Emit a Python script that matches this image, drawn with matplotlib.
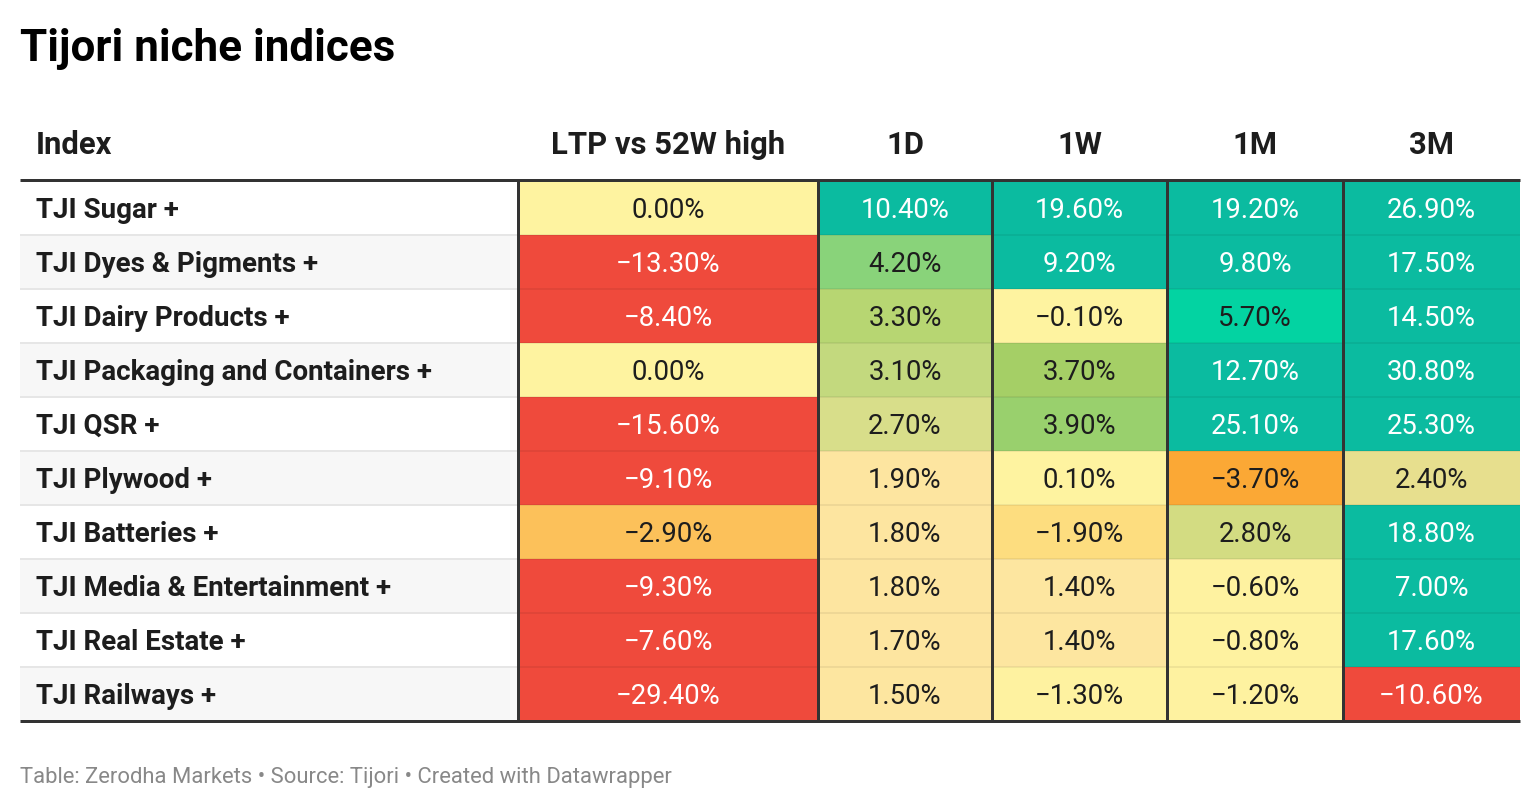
import matplotlib
matplotlib.use("Agg")
import matplotlib.pyplot as plt
import numpy as np
from matplotlib.colors import LinearSegmentedColormap, Normalize, to_rgb

# ---------------- data ----------------
title = "Tijori niche indices"
footer = "Table: Zerodha Markets \u2022 Source: Tijori \u2022 Created with Datawrapper"
columns = ["Index", "LTP vs 52W high", "1D", "1W", "1M", "3M"]
indices = ["TJI Sugar +", "TJI Dyes & Pigments +", "TJI Dairy Products +",
           "TJI Packaging and Containers +", "TJI QSR +", "TJI Plywood +",
           "TJI Batteries +", "TJI Media & Entertainment +", "TJI Real Estate +",
           "TJI Railways +"]
ltp_vs_52w = [0.00, -13.30, -8.40, 0.00, -15.60, -9.10, -2.90, -9.30, -7.60, -29.40]
ret_1d = [10.40, 4.20, 3.30, 3.10, 2.70, 1.90, 1.80, 1.80, 1.70, 1.50]
ret_1w = [19.60, 9.20, -0.10, 3.70, 3.90, 0.10, -1.90, 1.40, 1.40, -1.30]
ret_1m = [19.20, 9.80, 5.70, 12.70, 25.10, -3.70, 2.80, -0.60, -0.80, -1.20]
ret_3m = [26.90, 17.50, 14.50, 30.80, 25.30, 2.40, 18.80, 7.00, 17.60, -10.60]

# ---------------- colour scale ----------------
vmin, vmax = -30.0, 31.0
scale_stops = [(-30, '#ef4a3c'), (-5.0, '#ef4a3c'), (-3.7, '#fba935'),
               (-2.9, '#fcc15b'), (-1.9, '#fddd7f'), (-1.4, '#fef2a0'),
               (1.0, '#fef3a0'), (1.35, '#fde6a0'), (1.95, '#fde5a0'),
               (2.4, '#e7df8e'), (2.7, '#d8de8a'), (2.8, '#d4dc82'),
               (3.1, '#c3d97e'), (3.3, '#b8d672'), (3.7, '#a5cf66'),
               (3.9, '#9ad06c'), (4.2, '#8ad37a'), (5.7, '#03d3a2'),
               (7.0, '#0bbba0'), (31, '#0bbba0')]
cmap = LinearSegmentedColormap.from_list(
    "dw", [((v - vmin) / (vmax - vmin), c) for v, c in scale_stops], N=2048)
norm = Normalize(vmin, vmax)

plt.rcParams['font.family'] = ['Roboto', 'DejaVu Sans']

W, H = 1540, 810
fig = plt.figure(figsize=(W / 100, H / 100), dpi=100)
ax = fig.add_axes([0, 0, 1, 1])
ax.set_xlim(0, W)
ax.set_ylim(H, 0)
ax.axis('off')

px = 72 / 100  # points per pixel

# layout (pixels)
left, right = 20, 1520
col_edges = [20, 518, 818, 992, 1167, 1343, 1520]
top = 181
row_h = 54
nrows = len(indices)
row_edges = top + row_h * np.arange(nrows + 1)

values = np.array([ltp_vs_52w, ret_1d, ret_1w, ret_1m, ret_3m]).T

# stripes in index column
for i in range(nrows):
    if i % 2 == 1:
        ax.axhspan(row_edges[i], row_edges[i + 1], xmin=left / W, xmax=col_edges[1] / W,
                   color='#f7f7f7', lw=0, zorder=0)

# heatmap cells
ax.pcolormesh(col_edges[1:], row_edges, values, cmap=cmap, norm=norm, zorder=1)

# row separators
for y in row_edges[1:-1]:
    ax.plot([left, col_edges[1]], [y, y], color='#e6e6e6', lw=2 * px, zorder=2,
            solid_capstyle='butt')
    ax.plot([col_edges[1], right], [y, y], color='#000000', alpha=0.06, lw=2 * px,
            zorder=2, solid_capstyle='butt')

# column separators
for x in col_edges[1:-1]:
    ax.plot([x, x], [row_edges[0] - 1, row_edges[-1]], color='#333333', lw=3 * px,
            zorder=3, solid_capstyle='butt')

# thick top and bottom rules
ax.plot([left, right], [180, 180], color='#333333', lw=3 * px, zorder=4,
        solid_capstyle='butt')
ax.plot([left, right], [row_edges[-1], row_edges[-1]], color='#333333', lw=3 * px,
        zorder=4, solid_capstyle='butt')

# title
ax.text(20, 61, title, fontsize=31.7, fontweight='bold', color='#000000',
        ha='left', va='baseline')

# headers
for j, name in enumerate(columns):
    if j == 0:
        ax.text(36, 154, name, fontsize=22.3, fontweight='bold', color='#1d1d1d',
                ha='left', va='baseline')
    else:
        cx = (col_edges[j] + col_edges[j + 1]) / 2
        ax.text(cx, 154, name, fontsize=22.3, fontweight='bold', color='#1d1d1d',
                ha='center', va='baseline')

# body
for i, name in enumerate(indices):
    yb = row_edges[i] + row_h / 2 + 10
    ax.text(36, yb, name, fontsize=20, fontweight='bold', color='#1d1d1d',
            ha='left', va='baseline', zorder=5)
    for j in range(values.shape[1]):
        v = values[i, j]
        r, g, b = to_rgb(cmap(norm(v)))
        lum = 0.299 * r + 0.587 * g + 0.114 * b
        tc = '#ffffff' if lum < 0.53 else '#1d1d1d'
        cx = (col_edges[j + 1] + col_edges[j + 2]) / 2
        label = f"{v:.2f}%".replace('-', '\u2212')
        ax.text(cx, yb, label, fontsize=19.8, color=tc, ha='center', va='baseline',
                zorder=5)

# footer
ax.text(20, 783, footer, fontsize=15.8, color='#888888', ha='left', va='baseline')

fig.savefig("out.png", dpi=100)
